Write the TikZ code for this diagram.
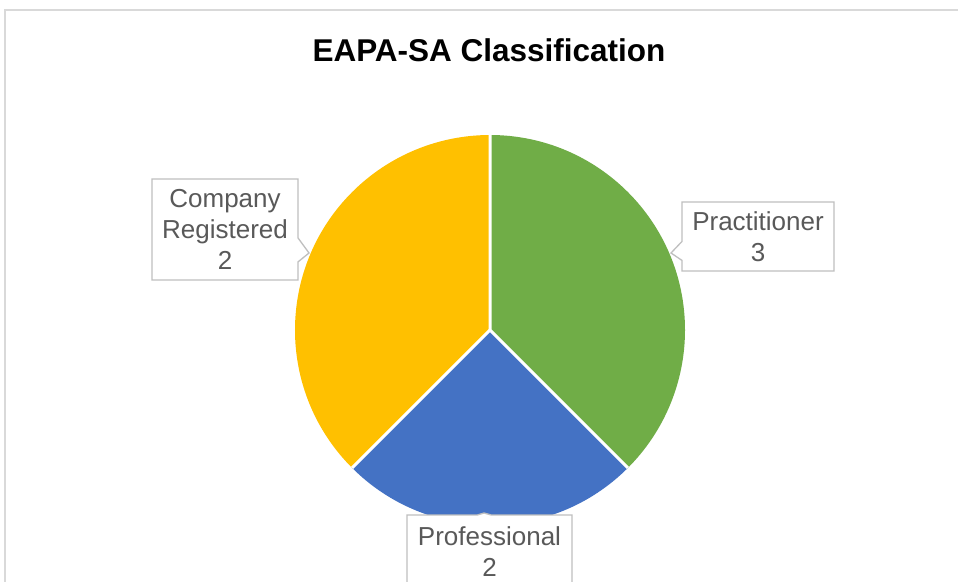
\documentclass[tikz,border=0pt]{standalone}
\usepackage{fontspec}
\setmainfont{Liberation Sans}
\usetikzlibrary{shapes.callouts}
\definecolor{pgreen}{HTML}{70AD47}
\definecolor{pblue}{HTML}{4472C4}
\definecolor{pyellow}{HTML}{FFC000}
\definecolor{lbltext}{HTML}{595959}
\definecolor{lblborder}{HTML}{BFBFBF}
\definecolor{framegray}{HTML}{D9D9D9}
\begin{document}
\begin{tikzpicture}[x=1pt,y=-1pt,
  lbl/.style={rectangle callout, draw=lblborder, line width=1.3pt, fill=white,
    text=lbltext, font=\fontsize{26}{31}\selectfont, align=center, inner sep=0pt},
  slice/.style={draw=white, line width=3pt, line join=round},
  titlestyle/.style={font=\fontsize{31.5}{36}\selectfont\bfseries, text=black}]
\useasboundingbox (0,0) rectangle (958,581);
\clip (0,0) rectangle (958,581);
\fill[white] (0,0) rectangle (958,581);
% chart frame
\draw[framegray, line width=1.5pt] (5,600) -- (5,10) -- (970,10);
% title
\node[titlestyle] (title) at (489,50) {EAPA-SA Classification};
% pie
\coordinate (c) at (490,330);
\coordinate (ptop) at (490,135);
\coordinate (pright) at (627.89,467.89);
\coordinate (pleft) at (352.11,467.89);
\fill[pgreen] (c) -- (ptop) arc[start angle=90, end angle=-45, radius=195pt] -- cycle;
\fill[pblue] (c) -- (pright) arc[start angle=-45, end angle=-135, radius=195pt] -- cycle;
\fill[pyellow] (c) -- (pleft) arc[start angle=-135, end angle=-270, radius=195pt] -- cycle;
\draw[slice] (ptop) -- (c) -- (pright);
\draw[slice] (c) -- (pleft);
% labels
\node[lbl, minimum width=146pt, minimum height=101pt,
  callout absolute pointer={(309,253)}, callout pointer width=24pt]
  (company) at (225,229.5) {Company\\Registered\\2};
\node[lbl, minimum width=152pt, minimum height=69pt,
  callout absolute pointer={(671,253)}, callout pointer width=19pt]
  (practitioner) at (758,236.5) {Practitioner\\3};
\node[lbl, minimum width=165pt, minimum height=74pt,
  callout absolute pointer={(484,513)}, callout pointer width=14pt]
  (professional) at (489.5,552) {Professional\\2};
\end{tikzpicture}
\end{document}
